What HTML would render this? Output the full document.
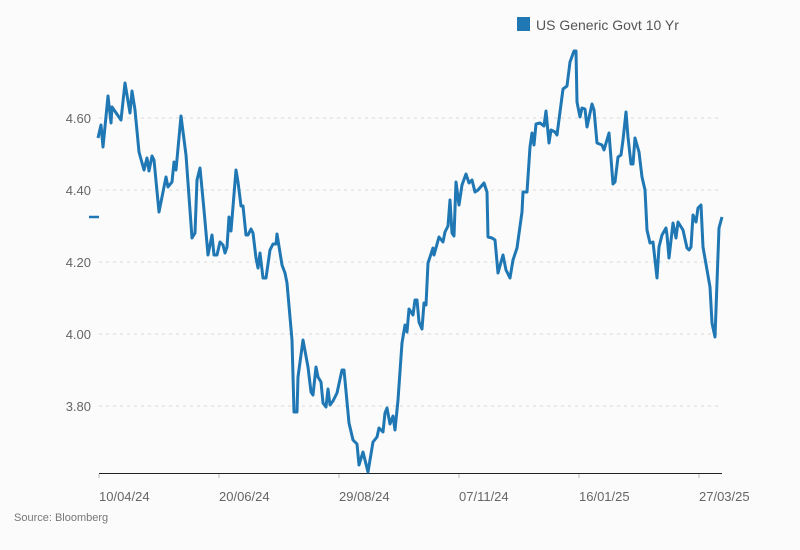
<!DOCTYPE html>
<html><head><meta charset="utf-8"><style>
html,body{margin:0;padding:0;background:#fbfbfb;}
svg{display:block;font-family:"Liberation Sans",sans-serif;}
</style></head><body>
<svg width="800" height="550" viewBox="0 0 800 550">
<rect width="800" height="550" fill="#fbfbfb"/>
<g stroke="#d8d8d8" stroke-width="1" stroke-dasharray="3,4">
<line x1="99" y1="118" x2="722" y2="118"/>
<line x1="99" y1="190" x2="722" y2="190"/>
<line x1="99" y1="262" x2="722" y2="262"/>
<line x1="99" y1="334" x2="722" y2="334"/>
<line x1="99" y1="406" x2="722" y2="406"/>
</g>
<g fill="#666" font-size="13" text-anchor="end">
<text x="91" y="123">4.60</text>
<text x="91" y="195">4.40</text>
<text x="91" y="267">4.20</text>
<text x="91" y="339">4.00</text>
<text x="91" y="411">3.80</text>
</g>
<line x1="99" y1="473.5" x2="722" y2="473.5" stroke="#222" stroke-width="1"/>
<g stroke="#bbb"><line x1="99" y1="474" x2="99" y2="478"/><line x1="219" y1="474" x2="219" y2="478"/><line x1="339" y1="474" x2="339" y2="478"/><line x1="459" y1="474" x2="459" y2="478"/><line x1="579" y1="474" x2="579" y2="478"/><line x1="699" y1="474" x2="699" y2="478"/></g>
<g fill="#666" font-size="13">
<text x="99" y="501">10/04/24</text>
<text x="219" y="501">20/06/24</text>
<text x="339" y="501">29/08/24</text>
<text x="459" y="501">07/11/24</text>
<text x="579" y="501">16/01/25</text>
<text x="699" y="501">27/03/25</text>
</g>
<text x="14" y="521" fill="#777" font-size="11">Source: Bloomberg</text>
<rect x="517" y="17" width="13" height="14" fill="#1f77b4"/>
<text x="536" y="30" fill="#555" font-size="14">US Generic Govt 10 Yr</text>
<line x1="89" y1="217" x2="99" y2="217" stroke="#1f77b4" stroke-width="2.5"/>
<polyline fill="none" stroke="#1f77b4" stroke-width="3" stroke-linejoin="round" points="98,138 101,125 103,147 108,96 111,123 112,107 121,120 125,83 130,113 132,91 135,110 139,152 144,170 147,158 149,171 152,156 154,160 159,212 166,177 168,187 172,182 174,162 176,170 181,116 186,155 192,238 195,233 197,180 200,168 204,210 208,255 212,235 214,255 217,255 220,242 223,245 225,253 227,247 229,217 231,231 236,170 238,182 241,206 243,206 246,235 248,235 251,229 253,233 256,258 258,268 260,253 263,278 266,278 270,250 273,244 276,244 277,234 282,265 285,273 287,283 292,340 294,412 297,412 298,377 303,340 308,367 311,392 313,395 316,367 318,377 321,382 323,403 326,407 328,389 330,405 333,401 337,393 342,370 344,370 349,423 353,440 357,444 359,465 363,452 368,472 373,442 377,437 379,428 383,432 385,413 387,408 390,424 393,416 395,430 398,400 402,343 405,325 407,332 409,309 413,315 415,300 417,300 419,322 422,329 424,303 426,305 428,263 433,248 434,255 439,237 443,242 445,232 448,226 450,200 452,233 454,236 456,182 459,205 462,185 466,174 469,183 472,180 475,192 478,190 484,183 487,192 488,237 492,238 495,240 498,273 503,255 506,270 510,278 513,260 517,248 522,212 523,192 527,192 530,147 532,133 534,145 536,124 540,123 544,126 546,111 549,143 551,130 555,132 557,135 560,112 563,89 567,86 570,62 574,51 576,51 577,102 580,117 582,108 585,109 587,127 592,104 594,110 597,143 602,145 604,150 609,133 613,184 615,182 618,157 621,155 623,140 626,112 628,137 631,164 633,164 635,138 639,152 642,177 645,190 647,230 650,243 653,242 657,278 659,247 662,235 666,228 667,235 669,258 673,223 676,238 678,222 683,230 687,248 689,250 691,247 693,215 696,222 698,208 701,205 703,247 710,287 712,323 715,337 719,228 722,217"/>
</svg>
</body></html>
